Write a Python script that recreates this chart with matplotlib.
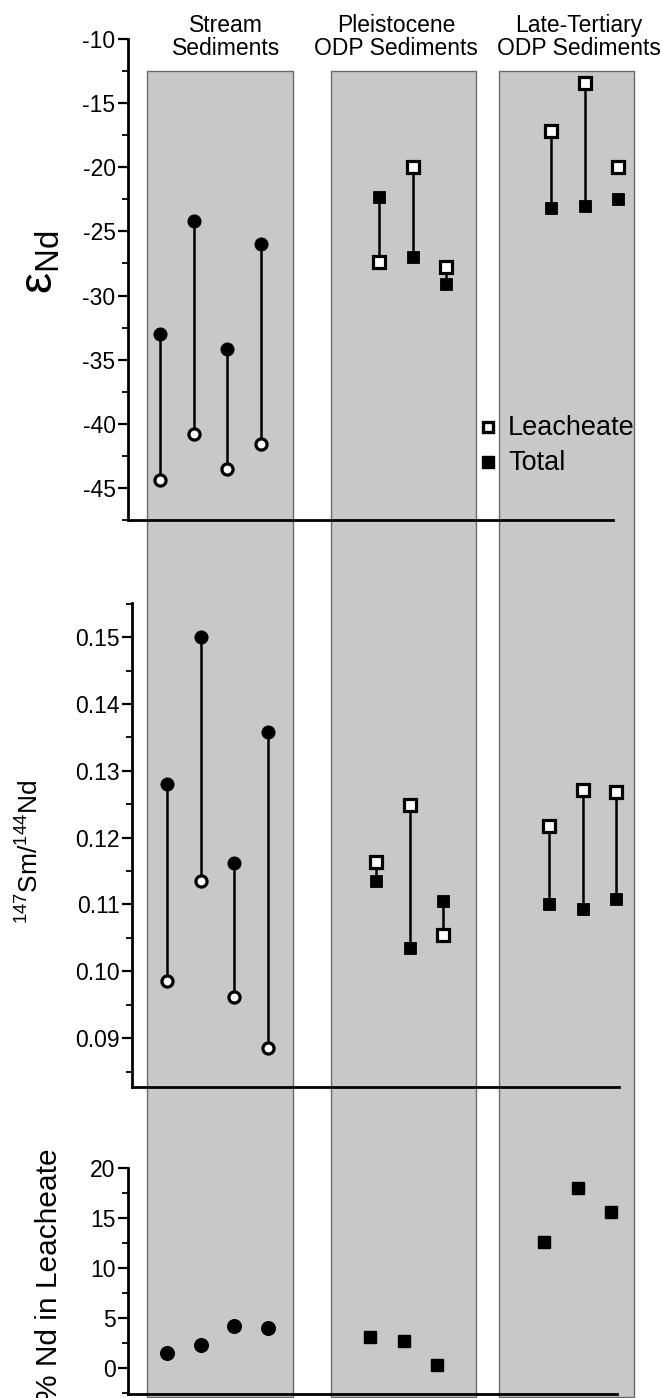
import matplotlib
matplotlib.use("Agg")
import matplotlib.pyplot as plt
from matplotlib.patches import Rectangle
from matplotlib.ticker import MultipleLocator, FormatStrFormatter

plt.rcParams['font.family'] = ['Liberation Sans', 'DejaVu Sans']
plt.rcParams['axes.unicode_minus'] = False
plt.rcParams['mathtext.fontset'] = 'custom'
plt.rcParams['mathtext.rm'] = 'Liberation Sans'
plt.rcParams['mathtext.it'] = 'Liberation Sans:italic'
plt.rcParams['mathtext.bf'] = 'Liberation Sans:bold'

BLACK = "#000000"
WHITE = "#FFFFFF"
SHADE = "#c8c8c8"
EDGE  = "#6a6a6a"

# --- data ---
groups = ["Stream\nSediments", "Pleistocene\nODP Sediments", "Late-Tertiary\nODP Sediments"]

stream_eps_total = [-33.0, -24.2, -34.2, -26.0]
stream_eps_leach = [-44.4, -40.8, -43.5, -41.6]
pleist_eps_total = [-22.3, -27.0, -29.1]
pleist_eps_leach = [-27.4, -20.0, -27.8]
late_eps_total   = [-23.2, -23.0, -22.5]
late_eps_leach   = [-17.2, -13.4, -20.0]

stream_smnd_total = [0.128, 0.150, 0.1162, 0.1358]
stream_smnd_leach = [0.0985, 0.1135, 0.0961, 0.0886]
pleist_smnd_total = [0.1135, 0.1035, 0.1105]
pleist_smnd_leach = [0.1163, 0.1249, 0.1055]
late_smnd_total   = [0.1100, 0.1094, 0.1108]
late_smnd_leach   = [0.1217, 0.1272, 0.1268]

stream_pct = [1.5, 2.3, 4.2, 4.0]
pleist_pct = [3.1, 2.7, 0.3]
late_pct   = [12.6, 18.0, 15.6]

# --- layout in pixels of the 661x1398 picture ---
W, H = 661, 1398
fig = plt.figure(figsize=(W / 100, H / 100), dpi=100)
fig.patch.set_facecolor(WHITE)


def box(x0, y0, x1, y1):
    return [x0 / W, 1 - y1 / H, (x1 - x0) / W, (y1 - y0) / H]


bg = fig.add_axes([0, 0, 1, 1])
bg.set_xlim(0, W)
bg.set_ylim(H, 0)
bg.axis('off')

columns = [(147, 293), (331, 476), (499, 634)]
for x0, x1 in columns:
    bg.add_patch(Rectangle((x0, 71), x1 - x0, 1397 - 71, facecolor=SHADE,
                           edgecolor=EDGE, linewidth=1.0, zorder=1))

header_x = [226, 396, 579]
for gx, name in zip(header_x, groups):
    bg.text(gx, 37, name, ha='center', va='center', fontsize=16.5,
            linespacing=1.0, color=BLACK)

STEP = 33.5


def xpos(start, n):
    return [start + STEP * i for i in range(n)]


def panel(rect, ylim, major, minor, fmt):
    ax = fig.add_axes(box(*rect))
    ax.set_facecolor('none')
    ax.set_xlim(rect[0], rect[2])
    ax.set_ylim(*ylim)
    for s in ('top', 'right'):
        ax.spines[s].set_visible(False)
    for s in ('left', 'bottom'):
        ax.spines[s].set_linewidth(2)
    ax.set_xticks([])
    ax.yaxis.set_major_locator(MultipleLocator(major))
    ax.yaxis.set_minor_locator(MultipleLocator(minor))
    ax.yaxis.set_major_formatter(FormatStrFormatter(fmt))
    ax.tick_params(axis='y', which='major', length=7, width=1.6,
                   labelsize=16.5, pad=2)
    ax.tick_params(axis='y', which='minor', length=4, width=1.3)
    return ax


def pair(ax, xs, total, leach, mk):
    ax.vlines(xs, total, leach, color=BLACK, lw=1.8, zorder=2)
    ax.plot(xs, total, ls='none', marker=mk, ms=9.5 if mk == 'o' else 9,
            mfc=BLACK, mec=BLACK, mew=0.6, zorder=3, clip_on=False)
    ax.plot(xs, leach, ls='none', marker=mk, ms=8, mfc=WHITE, mec=BLACK,
            mew=2.3, zorder=3, clip_on=False)


# top: epsilon Nd
ax1 = panel((128, 39, 613, 520), (-47.5, -10), 5, 2.5, '%d')
pair(ax1, xpos(160, 4), stream_eps_total, stream_eps_leach, 'o')
pair(ax1, xpos(379, 3), pleist_eps_total, pleist_eps_leach, 's')
pair(ax1, xpos(551, 3), late_eps_total, late_eps_leach, 's')

# middle: 147Sm/144Nd
ax2 = panel((132, 603, 619, 1087), (0.0827, 0.1551), 0.01, 0.005, '%.2f')
pair(ax2, xpos(167, 4), stream_smnd_total, stream_smnd_leach, 'o')
pair(ax2, xpos(376, 3), pleist_smnd_total, pleist_smnd_leach, 's')
pair(ax2, xpos(549, 3), late_smnd_total, late_smnd_leach, 's')

# bottom: % Nd in leacheate
ax3 = panel((128, 1168, 617, 1394), (-2.6, 20), 5, 2.5, '%d')
ax3.plot(xpos(167, 4), stream_pct, ls='none', marker='o', ms=9.8,
         mfc=BLACK, mec=BLACK, clip_on=False)
ax3.plot(xpos(370, 3), pleist_pct, ls='none', marker='s', ms=9.3,
         mfc=BLACK, mec=BLACK, clip_on=False)
ax3.plot(xpos(544, 3), late_pct, ls='none', marker='s', ms=9.3,
         mfc=BLACK, mec=BLACK, clip_on=False)

# legend
bg.plot([488], [427], ls='none', marker='s', ms=6.8, mfc=WHITE, mec=BLACK,
        mew=2.4, zorder=5)
bg.plot([488], [462], ls='none', marker='s', ms=8.5, mfc=BLACK, mec=BLACK,
        zorder=5)
bg.text(508, 428, 'Leacheate', ha='left', va='center', fontsize=19.5, zorder=5)
bg.text(508, 463, 'Total', ha='left', va='center', fontsize=19.5, zorder=5)

# axis labels
bg.text(41, 262, r'$\mathrm{ε}_{\mathrm{Nd}}$', rotation=90, ha='center',
        va='center', fontsize=34)
bg.text(30, 852, r'$^{147}\mathrm{Sm}/^{144}\mathrm{Nd}$', rotation=90,
        ha='center', va='center', fontsize=19)
bg.text(49, 1148, '% Nd in Leacheate', rotation=90, ha='center', va='top',
        fontsize=21.5)

fig.savefig('out.png', dpi=100, facecolor=WHITE)
